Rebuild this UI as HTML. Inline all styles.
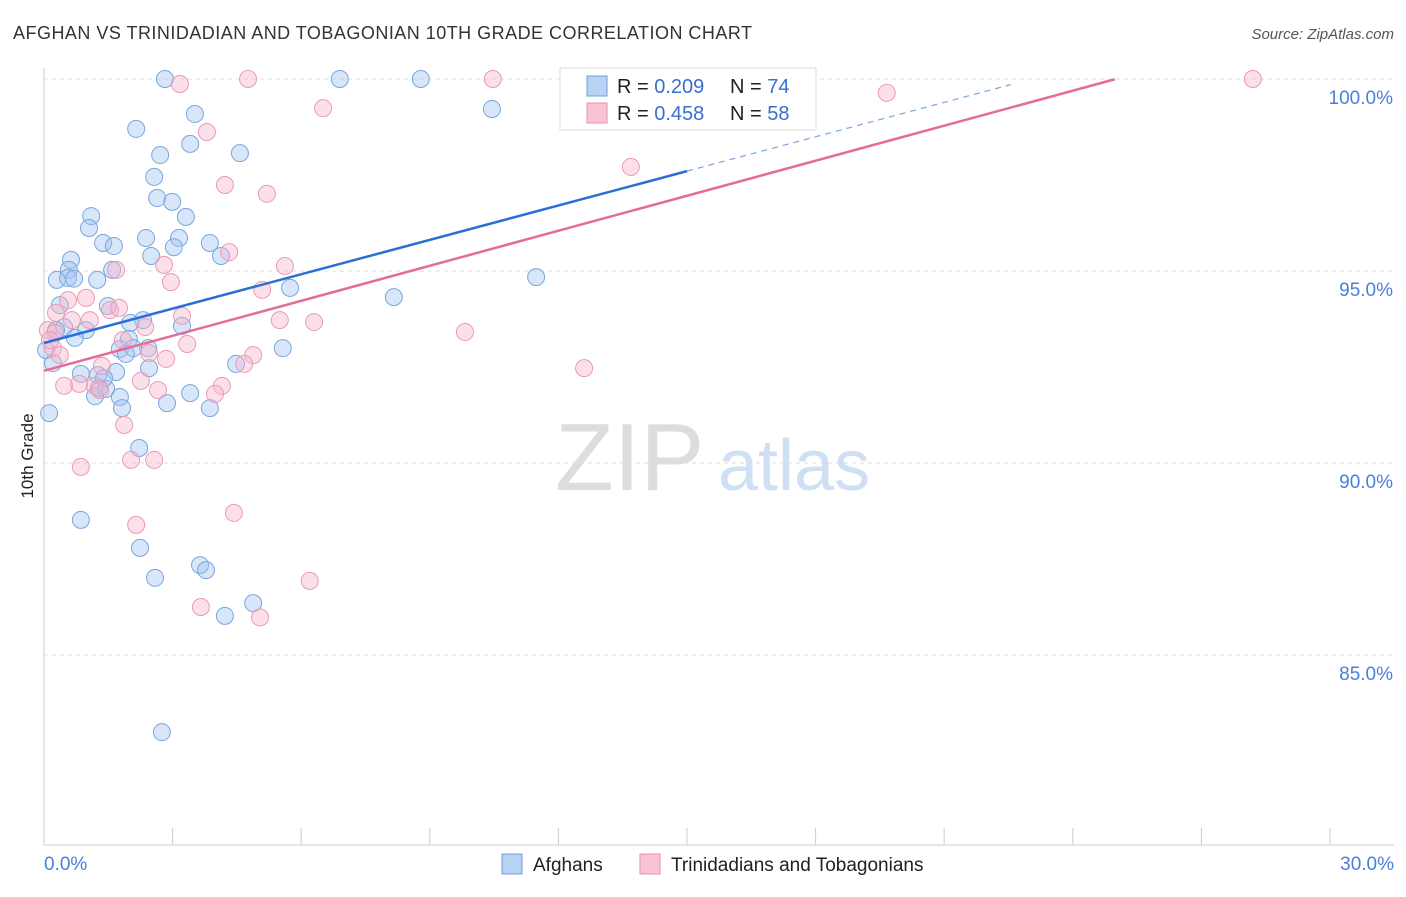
<!DOCTYPE html>
<html><head><meta charset="utf-8"><style>
body{margin:0;background:#fff;font-family:"Liberation Sans",sans-serif;}
svg text{font-family:"Liberation Sans",sans-serif;}
</style></head><body>
<svg id="chart" width="1406" height="892" xmlns="http://www.w3.org/2000/svg">
<text x="13" y="39" font-size="18" fill="#333" textLength="739" lengthAdjust="spacing">AFGHAN VS TRINIDADIAN AND TOBAGONIAN 10TH GRADE CORRELATION CHART</text>
<text x="1394" y="39" font-size="15" fill="#555" text-anchor="end" font-style="italic">Source: ZipAtlas.com</text>
<text transform="translate(33,456) rotate(-90)" font-size="17" fill="#222" text-anchor="middle">10th Grade</text>
<g>
<text x="555" y="490" font-size="96" fill="#ddd" font-family="Liberation Serif">ZIP</text>
<text x="718" y="490" font-size="72" fill="#cfe0f4">atlas</text>
</g>
<g id="grid"></g><g id="axes"></g><g id="pts"></g><g id="lines"></g>
<g>
<rect x="560" y="68" width="256" height="62" fill="#fff" stroke="#ddd"/>
<rect x="587" y="76" width="20" height="20" fill="#b8d2f4" stroke="#6f9fd8"/>
<text x="617" y="93" font-size="20" fill="#222">R = <tspan fill="#3a6fd0">0.209</tspan></text>
<text x="730" y="93" font-size="20" fill="#222">N = <tspan fill="#3a6fd0">74</tspan></text>
<rect x="587" y="103" width="20" height="20" fill="#f8c4d4" stroke="#e890ae"/>
<text x="617" y="120" font-size="20" fill="#222">R = <tspan fill="#3a6fd0">0.458</tspan></text>
<text x="730" y="120" font-size="20" fill="#222">N = <tspan fill="#3a6fd0">58</tspan></text>
</g>
<g>
<rect x="502" y="854" width="20" height="20" fill="#b8d2f4" stroke="#6f9fd8"/>
<text x="533" y="871" font-size="19" fill="#222">Afghans</text>
<rect x="640" y="854" width="20" height="20" fill="#f8c4d4" stroke="#e890ae"/>
<text x="671" y="871" font-size="19" fill="#222">Trinidadians and Tobagonians</text>
</g>
</svg>
<script>
const blueX=[2.82,6.90,8.79,10.45,3.52,2.15,3.41,2.71,4.57,2.57,2.64,2.99,1.10,3.31,1.05,2.38,3.15,3.87,1.38,1.63,3.03,2.50,4.13,0.63,0.58,1.59,0.30,0.56,0.70,1.24,11.48,5.74,8.16,0.37,1.49,2.31,2.01,3.22,0.47,0.98,0.72,1.98,2.43,1.77,2.08,1.91,0.05,0.21,5.57,4.48,2.45,1.68,0.86,1.26,1.28,1.45,3.41,1.19,1.77,2.87,1.82,3.87,0.12,2.22,0.86,2.24,2.59,3.64,3.78,4.88,4.22,2.75,0.28,1.40];
const blueY=[100,100,100,99.22,99.09,98.70,98.31,98.02,98.07,97.45,96.90,96.80,96.43,96.41,96.12,95.86,95.86,95.73,95.73,95.65,95.62,95.39,95.39,95.29,95.03,95.03,94.77,94.82,94.80,94.77,94.84,94.56,94.32,94.11,94.09,93.72,93.65,93.57,93.54,93.46,93.26,93.23,92.99,92.97,92.99,92.84,92.94,92.60,92.99,92.58,92.47,92.37,92.32,92.29,91.95,91.93,91.82,91.74,91.72,91.56,91.43,91.43,91.30,90.39,88.52,87.79,87.01,87.34,87.21,86.35,86.02,82.99,93.46,92.21];
const pinkX=[4.76,10.47,28.20,3.17,19.66,6.51,3.80,13.69,4.22,5.20,4.32,2.80,5.62,1.68,2.96,5.09,0.98,0.56,1.54,1.75,0.28,5.50,6.30,3.22,9.82,0.65,1.07,2.36,0.09,0.26,3.34,0.21,2.45,2.85,4.88,4.67,12.60,1.35,2.26,2.66,4.15,3.99,0.47,0.82,1.19,1.87,2.03,2.57,0.86,4.43,2.15,6.20,3.66,5.04,1.31,0.37,0.14,1.84];
const pinkY=[100,100,100,99.87,99.64,99.24,98.62,97.71,97.24,97.01,95.49,95.16,95.13,95.03,94.71,94.51,94.30,94.24,93.98,94.04,93.91,93.72,93.67,93.83,93.41,93.72,93.72,93.54,93.46,93.39,93.10,92.99,92.86,92.71,92.81,92.58,92.47,92.53,92.14,91.90,92.01,91.80,92.01,92.06,92.01,90.99,90.08,90.08,89.90,88.70,88.39,86.93,86.25,85.98,91.90,92.81,93.20,93.20];
const yTicks=[100,95,90,85];
const yTickLabels=["100.0%","95.0%","90.0%","85.0%"];
const xTicks=[0,3,6,9,12,15,18,21,24,27,30];
const blueTrend=[93.125,0.2984,15,22.55];
const pinkTrend=[92.40,0.304,24.98];
const NS="http://www.w3.org/2000/svg";
const xs=v=>44+v*42.867, ys=v=>79+(100-v)*38.4;
function mk(parent,tag,attrs){const e=document.createElementNS(NS,tag);for(const k in attrs)e.setAttribute(k,attrs[k]);document.getElementById(parent).appendChild(e);return e;}
yTicks.forEach((t,i)=>{
 const g=mk('grid','line',{x1:44,x2:1394,y1:ys(t),y2:ys(t),stroke:'#ddd','stroke-dasharray':'4 4'});
 
 
 const l=mk('axes','text',{x:1393,y:ys(t)+25,'font-size':19,fill:'#4a7fd8','text-anchor':'end'});
 l.textContent=yTickLabels[i];
 
 
});
const ax=mk('axes','line',{x1:44,x2:44,y1:68,y2:845,stroke:'#ccc'});


const bx=mk('axes','line',{x1:44,x2:1394,y1:845,y2:845,stroke:'#ccc'});


xTicks.forEach(t=>{const k=mk('axes','line',{x1:xs(t),x2:xs(t),y1:828,y2:845,stroke:'#ccc'});
 
 });
const x0=mk('axes','text',{x:44,y:870,'font-size':19,fill:'#4a7fd8'});x0.textContent='0.0%';


const x1=mk('axes','text',{x:1394,y:870,'font-size':19,fill:'#4a7fd8','text-anchor':'end'});x1.textContent='30.0%';


blueX.forEach((v,i)=>{const c=mk('pts','circle',{cx:xs(v),cy:ys(blueY[i]),r:8.5,fill:'rgba(160,196,240,0.42)',stroke:'#7aa6dc','stroke-width':1});
 
 });
pinkX.forEach((v,i)=>{const c=mk('pts','circle',{cx:xs(v),cy:ys(pinkY[i]),r:8.5,fill:'rgba(245,180,204,0.42)',stroke:'#eb9ab6','stroke-width':1});
 
 });
const bf=x=>blueTrend[0]+blueTrend[1]*x, pf=x=>pinkTrend[0]+pinkTrend[1]*x;
const b1=mk('lines','line',{x1:xs(0),y1:ys(bf(0)),x2:xs(blueTrend[2]),y2:ys(bf(blueTrend[2])),stroke:'#2a6fd6','stroke-width':2.5});


const b2=mk('lines','line',{x1:xs(blueTrend[2]),y1:ys(bf(blueTrend[2])),x2:xs(blueTrend[3]),y2:ys(bf(blueTrend[3])),stroke:'#7aa6dc','stroke-width':1.2,'stroke-dasharray':'6 5'});


const p1=mk('lines','line',{x1:xs(0),y1:ys(pf(0)),x2:xs(pinkTrend[2]),y2:ys(pf(pinkTrend[2])),stroke:'#e46c96','stroke-width':2.5});


</script>
</body></html>
